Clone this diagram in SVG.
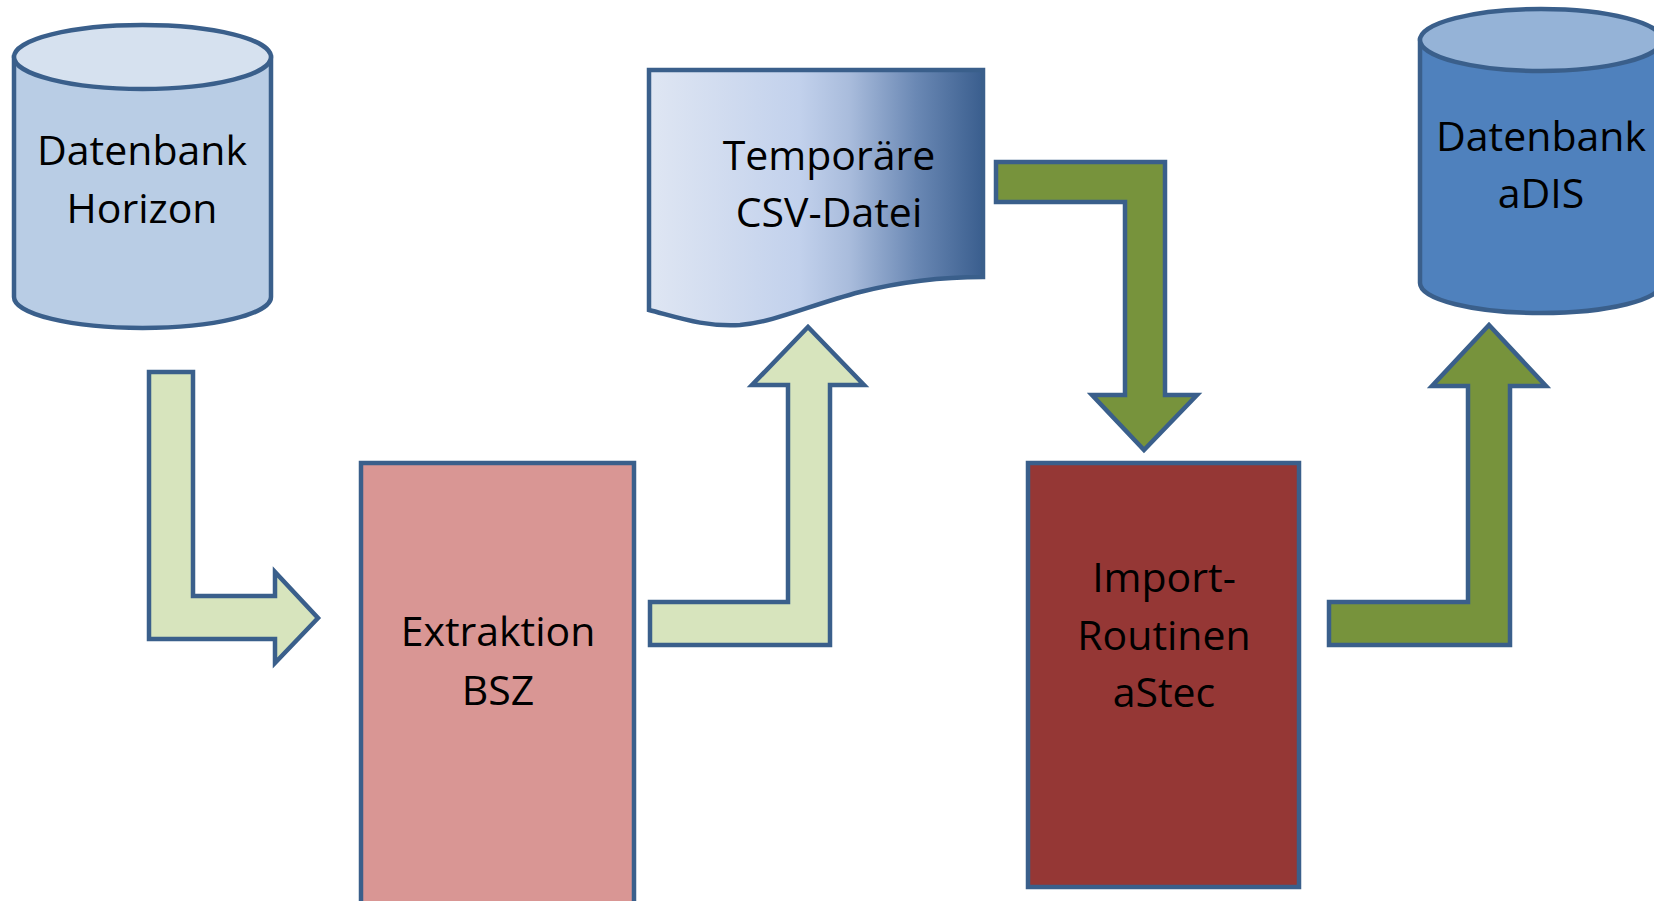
<svg xmlns="http://www.w3.org/2000/svg" width="1654" height="901" viewBox="0 0 1654 901">
<defs>
<linearGradient id="docGrad" x1="0" y1="0" x2="1" y2="0">
<stop offset="0" stop-color="#dfe6f3"/>
<stop offset="0.45" stop-color="#c2d1ec"/>
<stop offset="0.6" stop-color="#a9bcdc"/>
<stop offset="0.8" stop-color="#6a88b4"/>
<stop offset="1" stop-color="#3a5e8e"/>
</linearGradient>
<style>
.s{stroke:#3a5f8b;stroke-width:4.5;stroke-linejoin:miter}
.t{font-family:"Open Sans","Noto Sans","Liberation Sans",sans-serif;font-size:41px;fill:#000;text-anchor:middle}
.lg{fill:#d7e4bd}
.dg{fill:#77933c}
</style>
</defs>
<rect width="1654" height="901" fill="#ffffff"/>

<g id="connectors">
<path class="s lg" d="M149,372 H193 V596 H275 V572 L318,618 L275,663 V639 H149 Z"/>
<path class="s lg" d="M650,602 H788 V385 H752 L808,327 L864,385 H830 V645 H650 Z"/>
<path class="s dg" d="M996,162 H1165 V395 H1197 L1144,450 L1092,395 H1125 V202 H996 Z"/>
<path class="s dg" d="M1329,602 H1468 V386 H1432 L1489,325 L1546,386 H1510 V645 H1329 Z"/>
</g>

<g id="db-horizon">
<path class="s" fill="#b9cde5" d="M14,57 V297 A128.5,31 0 0 0 271,297 V57 Z"/>
<ellipse class="s" fill="#d6e1ef" cx="142.5" cy="57" rx="128.5" ry="32"/>
<text class="t" x="142" y="165">Datenbank</text>
<text class="t" x="142" y="223">Horizon</text>
</g>

<g id="extraktion">
<rect class="s" fill="#d99694" x="361" y="463" width="273" height="450"/>
<text class="t" x="498" y="646">Extraktion</text>
<text class="t" x="498" y="705">BSZ</text>
</g>

<g id="csv">
<path class="s" fill="url(#docGrad)" d="M649,70 H983 V277 C940,277 900,282 860,292 C810,305 775,322 740,325 C705,327 680,318 649,310 Z"/>
<text class="t" x="829" y="170">Temporäre</text>
<text class="t" x="829" y="227">CSV-Datei</text>
</g>

<g id="import">
<rect class="s" fill="#953735" x="1028" y="463" width="271" height="424"/>
<text class="t" x="1164" y="592">Import-</text>
<text class="t" x="1164" y="650">Routinen</text>
<text class="t" x="1164" y="707">aStec</text>
</g>

<g id="db-adis">
<path class="s" fill="#4f81bd" d="M1420,40 V283 A121,30 0 0 0 1662,283 V40 Z"/>
<ellipse class="s" fill="#95b3d7" cx="1541" cy="40" rx="121" ry="31"/>
<text class="t" x="1541" y="151">Datenbank</text>
<text class="t" x="1541" y="208">aDIS</text>
</g>
</svg>
